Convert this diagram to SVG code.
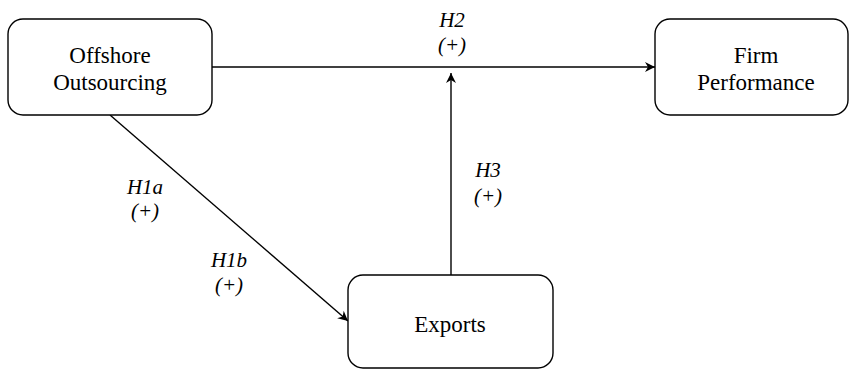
<svg xmlns="http://www.w3.org/2000/svg" width="850" height="370" viewBox="0 0 850 370">
  <style>
    .box { fill: #ffffff; stroke: #000000; stroke-width: 1.4; }
    .node-text { font-family: "Liberation Serif", "Times New Roman", serif; font-size: 23px; fill: #000000; text-anchor: middle; }
    .label { font-family: "Liberation Serif", "Times New Roman", serif; font-size: 21px; font-style: italic; fill: #000000; text-anchor: middle; }
    .edge { fill: none; stroke: #000000; stroke-width: 1.4; marker-end: url(#arrow); }
  </style>
  <defs>
    <marker id="arrow" viewBox="0 0 10 10" refX="10" refY="5" markerWidth="12" markerHeight="10" markerUnits="userSpaceOnUse" orient="auto">
      <path d="M0,0 L10,5 L0,10 L3,5 Z" fill="#000000"/>
    </marker>
  </defs>
  <rect width="850" height="370" fill="#ffffff"/>

  <g id="connectors">
    <line class="edge" x1="212" y1="67" x2="655" y2="67"/>
    <line class="edge" x1="451" y1="275" x2="451" y2="73"/>
    <line class="edge" x1="110" y1="115" x2="348" y2="321"/>
  </g>

  <g id="labels">
    <text class="label" x="452" y="27">H2</text>
    <text class="label" x="452" y="52">(+)</text>
    <text class="label" x="145" y="194">H1a</text>
    <text class="label" x="145" y="218">(+)</text>
    <text class="label" x="229" y="267">H1b</text>
    <text class="label" x="229" y="292">(+)</text>
    <text class="label" x="488" y="177">H3</text>
    <text class="label" x="488" y="203">(+)</text>
  </g>

  <g id="node-offshore">
    <rect class="box" x="8" y="19" width="204" height="96" rx="15" ry="15"/>
    <text class="node-text" x="110" y="63">Offshore</text>
    <text class="node-text" x="110" y="90">Outsourcing</text>
  </g>

  <g id="node-firm">
    <rect class="box" x="655" y="19" width="193" height="96" rx="15" ry="15"/>
    <text class="node-text" x="756" y="63">Firm</text>
    <text class="node-text" x="756" y="90">Performance</text>
  </g>

  <g id="node-exports">
    <rect class="box" x="348" y="275" width="205" height="93" rx="15" ry="15"/>
    <text class="node-text" x="450" y="332">Exports</text>
  </g>
</svg>
